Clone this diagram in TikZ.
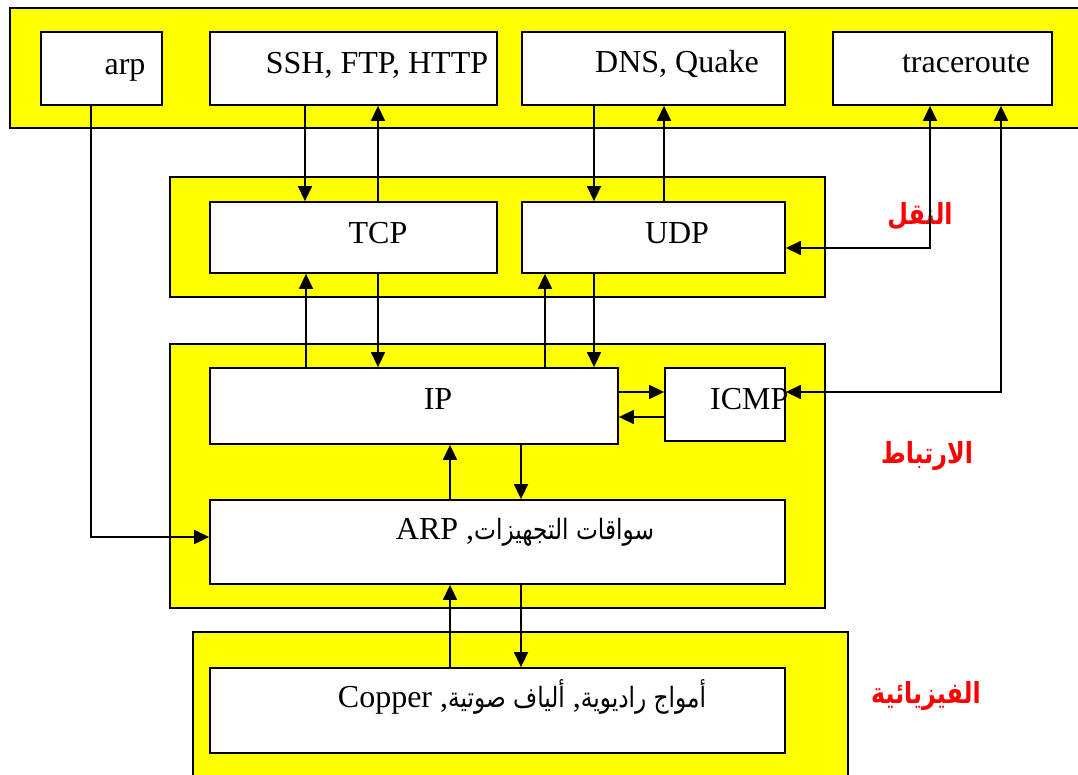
\documentclass[tikz,border=0pt]{standalone}
\usepackage{fontspec}
\setmainfont{Liberation Serif}
\newfontfamily\arabicfont[Script=Arabic,FakeStretch=0.83]{DejaVu Sans}
\newfontfamily\labelfont[Script=Arabic,FakeStretch=0.82]{DejaVu Sans}
\TeXXeTstate=1
\usetikzlibrary{arrows.meta}
\definecolor{layeryellow}{RGB}{255,255,0}
\definecolor{labelred}{RGB}{255,0,0}
\newcommand{\arab}[1]{{\arabicfont\fontsize{28}{34}\selectfont #1}}
\tikzset{
  layer/.style={draw=black, fill=layeryellow, line width=1.8pt, rectangle, inner sep=0pt},
  box/.style={draw=black, fill=white, line width=1.8pt, rectangle, inner sep=0pt},
  txt/.style={inner sep=0pt, font=\fontsize{32}{38}\selectfont},
  layername/.style={inner sep=0pt, text=labelred, font=\labelfont\bfseries\fontsize{29}{34}\selectfont},
  arr/.style={line width=1.6pt, -{Triangle[length=15pt,width=14pt]}},
  arrboth/.style={line width=1.6pt, {Triangle[length=15pt,width=14pt]}-{Triangle[length=15pt,width=14pt]}}
}
\begin{document}
\begin{tikzpicture}[x=1pt,y=-1pt]
\useasboundingbox (0,0) rectangle (1078,775);
\clip (0,0) rectangle (1078,775);

% protocol layers (yellow bands)
\node[layer, minimum width=1080, minimum height=120] (app) at (550,68) {};
\node[layer, minimum width=655, minimum height=120] (transport) at (497.5,237) {};
\node[layer, minimum width=655, minimum height=264] (link) at (497.5,476) {};
\node[layer, minimum width=655, minimum height=158] (phys) at (520.5,711) {};

% application layer
\node[box, minimum width=121, minimum height=73] (arp) at (101.5,68.5) {};
\node[box, minimum width=287, minimum height=73] (ssh) at (353.5,68.5) {};
\node[box, minimum width=263, minimum height=73] (dns) at (653.5,68.5) {};
\node[box, minimum width=219, minimum height=73] (trace) at (942.5,68.5) {};
\node[txt, anchor=base] (tarp) at (125,75) {arp};
\node[txt, anchor=base] (tssh) at (377,74) {SSH, FTP, HTTP};
\node[txt, anchor=base] (tdns) at (677,73) {DNS, Quake};
\node[txt, anchor=base] (ttrace) at (966,73) {traceroute};

% transport layer
\node[box, minimum width=287, minimum height=71] (tcp) at (353.5,237.5) {};
\node[box, minimum width=263, minimum height=71] (udp) at (653.5,237.5) {};
\node[txt, anchor=base] (ttcp) at (378,244) {TCP};
\node[txt, anchor=base] (tudp) at (677,244) {UDP};

% link layer
\node[box, minimum width=408, minimum height=76] (ip) at (414,406) {};
\node[box, minimum width=120, minimum height=73] (icmp) at (725,404.5) {};
\node[box, minimum width=575, minimum height=84] (arpdrv) at (497.5,542) {};
\node[txt, anchor=base] (tip) at (438,409) {IP};
\node[txt, anchor=base west] (ticmp) at (710,409) {ICMP};
\node[txt, anchor=base] (tarpdrv) at (525,539)
  {\beginR\arab{سواقات التجهيزات}, \beginL ARP\endL\endR};

% physical layer
\node[box, minimum width=575, minimum height=85] (copper) at (497.5,710.5) {};
\node[txt, anchor=base] (tcopper) at (522,707)
  {\beginR\arab{أمواج راديوية}, \arab{ألياف صوتية}, \beginL Copper\endL\endR};

% layer names
\node[layername] (ntransport) at (920,216) {\beginR النقل\endR};
\node[layername] (nlink) at (927,456) {\beginR الارتباط\endR};
\node[layername] (nphys) at (926,696) {\beginR الفيزيائية\endR};

% application <-> transport
\draw[arr] (305,0 |- ssh.south) -- (305,0 |- tcp.north);
\draw[arr] (378,0 |- tcp.north) -- (378,0 |- ssh.south);
\draw[arr] (594,0 |- dns.south) -- (594,0 |- udp.north);
\draw[arr] (664,0 |- udp.north) -- (664,0 |- dns.south);
\draw[arrboth] (930,0 |- trace.south) |- (udp.east |- 0,248);
\draw[arrboth] (1001,0 |- trace.south) |- (icmp.east |- 0,392);

% transport <-> IP
\draw[arr] (306,0 |- ip.north) -- (306,0 |- tcp.south);
\draw[arr] (378,0 |- tcp.south) -- (378,0 |- ip.north);
\draw[arr] (545,0 |- ip.north) -- (545,0 |- udp.south);
\draw[arr] (594,0 |- udp.south) -- (594,0 |- ip.north);

% IP <-> ICMP
\draw[arr] (ip.east |- 0,392) -- (icmp.west |- 0,392);
\draw[arr] (icmp.west |- 0,417) -- (ip.east |- 0,417);

% IP <-> drivers
\draw[arr] (450,0 |- arpdrv.north) -- (450,0 |- ip.south);
\draw[arr] (521,0 |- ip.south) -- (521,0 |- arpdrv.north);

% drivers <-> physical media
\draw[arr] (450,0 |- copper.north) -- (450,0 |- arpdrv.south);
\draw[arr] (521,0 |- arpdrv.south) -- (521,0 |- copper.north);

% arp tool straight to the drivers
\draw[arr] (91,0 |- arp.south) |- (arpdrv.west |- 0,537);
\end{tikzpicture}
\end{document}
